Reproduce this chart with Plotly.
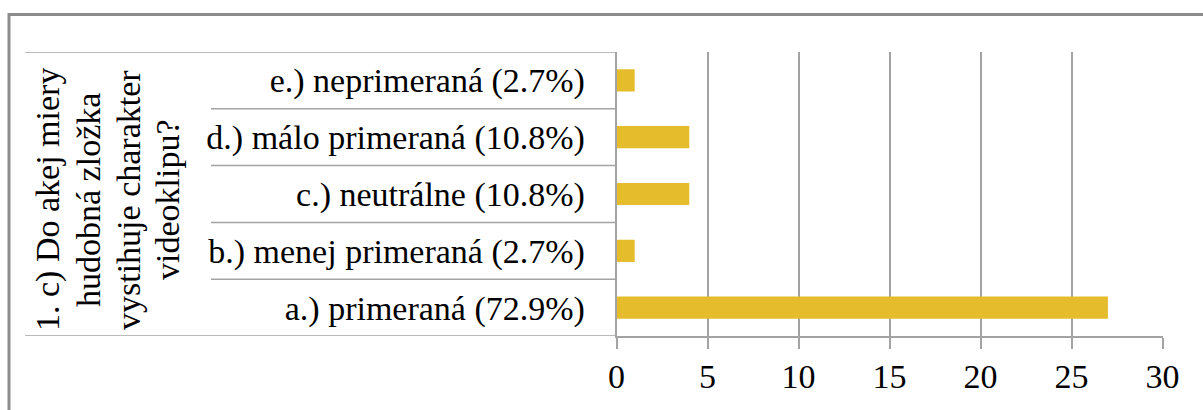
import plotly.graph_objects as go

W, H = 1203, 410

# Survey answers (bottom to top) and response counts
categories = [
    "a.) primeraná (72.9%)",
    "b.) menej primeraná (2.7%)",
    "c.) neutrálne (10.8%)",
    "d.) málo primeraná (10.8%)",
    "e.) neprimeraná (2.7%)",
]
counts = [27, 1, 4, 4, 1]

# Outer category label, one entry per text line
question_lines = [
    "1. c) Do akej miery",
    "hudobná zložka",
    "vystihuje charakter",
    "videoklipu?",
]

x_ticks = [0, 5, 10, 15, 20, 25, 30]

BAR_COLOR = "#E4BC2C"
GRID = "#A3A3A3"
FONT = "Times New Roman, Liberation Serif, serif"
TEXT = "#000000"


def px(xp):
    return xp / W


def py(yp):
    return 1 - yp / H


fig = go.Figure(
    go.Bar(
        x=counts,
        y=categories,
        orientation="h",
        width=0.39,
        marker=dict(color=BAR_COLOR, line=dict(width=0)),
        hoverinfo="x+y",
    )
)

plot_left, plot_right = 616.5, 1162.5
plot_top, plot_bottom = 52, 336

fig.update_layout(
    template="none",
    width=W,
    height=H,
    margin=dict(l=0, r=0, t=0, b=0, pad=0),
    paper_bgcolor="white",
    plot_bgcolor="white",
    showlegend=False,
    font=dict(family=FONT, size=34, color=TEXT),
    xaxis=dict(
        domain=[px(plot_left), px(plot_right)],
        range=[0, 30],
        tickvals=x_ticks,
        ticktext=[str(v) for v in x_ticks],
        automargin=False,
        showgrid=True,
        gridcolor=GRID,
        gridwidth=1.5,
        zeroline=False,
        showline=True,
        linecolor=GRID,
        linewidth=1.5,
        ticks="outside",
        ticklen=11,
        tickwidth=1.5,
        tickcolor=GRID,
        ticklabelstandoff=-2,
        tickfont=dict(family=FONT, size=34, color=TEXT),
    ),
    yaxis=dict(
        domain=[py(plot_bottom), py(plot_top)],
        type="category",
        categoryorder="array",
        categoryarray=categories,
        range=[-0.5, len(categories) - 0.5],
        automargin=False,
        showgrid=False,
        zeroline=False,
        showline=True,
        linecolor=GRID,
        linewidth=1.5,
        ticks="",
        ticklabelstandoff=23,
        tickfont=dict(family=FONT, size=34, color=TEXT),
    ),
)

shapes = []
# outer chart frame
shapes.append(dict(
    type="rect", xref="paper", yref="paper",
    x0=px(9), x1=1.05, y0=-0.05, y1=py(14.5),
    line=dict(color="#8C8C8C", width=3), fillcolor="rgba(0,0,0,0)",
    layer="above",
))
n = len(categories)
# category table rules
for i in range(n + 1):
    yv = i - 0.5
    x0 = px(25) if i in (0, n) else px(211)
    shapes.append(dict(
        type="line", xref="paper", yref="y",
        x0=x0, x1=px(plot_left), y0=yv, y1=yv,
        line=dict(color=GRID, width=1.5), layer="above",
    ))
fig.update_layout(shapes=shapes)

# rotated outer category label
line_x = [48, 88, 128, 167]
for xp_, txt in zip(line_x, question_lines):
    fig.add_annotation(
        x=px(xp_), y=py(200), xref="paper", yref="paper",
        text=txt, showarrow=False, textangle=-90,
        xanchor="center", yanchor="middle",
        font=dict(family=FONT, size=34, color=TEXT),
    )

fig.write_html("out.html")
